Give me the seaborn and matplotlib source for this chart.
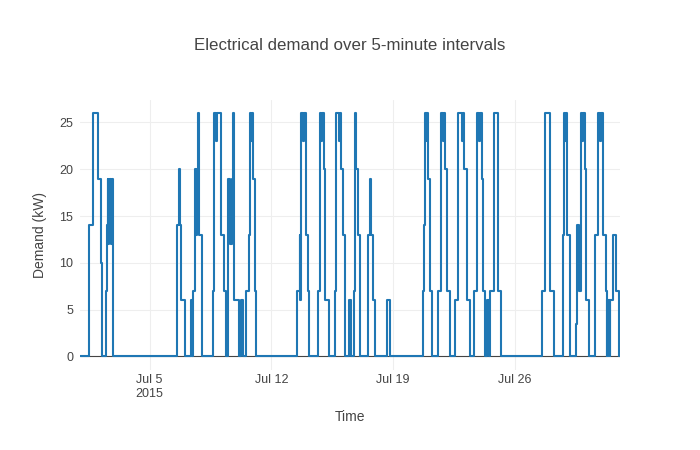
import matplotlib
matplotlib.use("Agg")
import matplotlib.pyplot as plt
import numpy as np
import pandas as pd
import seaborn as sns

# change points of the demand series: hours after 2015-07-01 00:00, and the level held from there
hours = [
    0, 12.6, 17.7, 18.6, 25.3, 29.4, 30.8, 36.0, 37.0, 38.0, 38.8, 39.8, 40.7, 41.6, 42.5, 43.5, 44.9,
    133.5, 136.4, 138.2, 139.2, 145.1, 152.7, 154.4, 156.2, 158.5, 160.3, 161.7, 163.1, 164.1, 168.9,
    183.4, 185.5, 188.2, 189.6, 194.0, 199.0, 201.1, 204.7, 207.6, 209.6, 211.0, 213.1, 219.3, 222.5,
    224.8, 229.6, 233.8, 234.9, 236.3, 237.2, 238.6, 241.0, 242.4,
    299.8, 303.3, 304.2, 305.3, 307.7, 309.7, 312.1, 314.3, 315.7,
    328.0, 330.9, 333.2, 334.6, 336.7, 338.5, 343.0, 351.4, 353.7, 356.7, 358.1, 360.6, 362.9, 365.0,
    365.7, 371.2, 373.5, 377.7, 379.1, 381.3, 383.6, 386.0, 397.4, 400.6, 402.0, 404.3, 406.7, 424.1, 427.4,
    473.1, 474.5, 475.4, 478.2, 479.3, 480.7, 483.0, 485.8, 494.4, 498.0, 500.3, 502.0, 504.0, 506.9,
    510.0, 516.9, 522.0, 526.5, 527.9, 529.3, 533.9, 538.3, 543.8, 547.3, 550.7, 552.1, 554.2, 555.5,
    558.6, 561.8, 563.8, 565.5, 571.0, 576.9, 580.7,
    637.0, 642.3, 648.1, 649.2, 653.6, 666.0, 667.4, 669.5, 670.6, 671.5, 672.6, 675.7, 684.7, 686.0,
    688.1, 690.6, 692.9, 694.3, 696.7, 697.8, 702.3, 710.2, 714.8, 717.8, 719.2, 721.9, 725.1, 726.8,
    727.5, 728.3, 729.1, 730.9, 731.6, 735.7, 738.9, 743.8, 745.1,
]
demand_kw = [
    0, 14, 20, 26, 19, 10, 0, 7, 14, 19, 12, 19, 14, 19, 12, 19, 0,
    14, 20, 14, 6, 0, 6, 0, 7, 20, 13, 20, 26, 13, 0,
    7, 26, 23, 26, 13, 7, 0, 19, 12, 19, 26, 6, 0, 6,
    0, 7, 13, 26, 23, 26, 19, 7, 0,
    7, 13, 6, 26, 23, 26, 13, 7, 0,
    7, 26, 23, 26, 20, 6, 0, 7, 26, 23, 26, 20, 13, 6,
    0, 6, 0, 7, 26, 20, 13, 0, 13, 19, 13, 6, 0, 6, 0,
    7, 14, 26, 23, 26, 19, 7, 0, 7, 26, 23, 26, 20, 7,
    0, 6, 26, 23, 26, 20, 6, 0, 7, 26, 23, 26, 19, 7,
    0, 6, 0, 7, 26, 7, 0,
    7, 26, 20, 7, 0, 13, 26, 23, 26, 20, 13, 0, 3.5, 14,
    7, 26, 23, 26, 20, 6, 0, 13, 26, 23, 26, 13, 7, 0,
    6, 0, 6, 0, 6, 13, 7, 0, 0,
]

start = pd.Timestamp("2015-07-01 00:00")
tick_dates = ["2015-07-05", "2015-07-12", "2015-07-19", "2015-07-26"]
tick_labels = ["Jul 5\n2015", "Jul 12", "Jul 19", "Jul 26"]
y_ticks = [0, 5, 10, 15, 20, 25]

df = pd.DataFrame({
    "Time": start + pd.to_timedelta(hours, unit="h"),
    "Demand (kW)": demand_kw,
})

sns.set_style("white")
plt.rcParams["font.family"] = ["Liberation Sans", "DejaVu Sans"]
text_color = "#444444"

fig = plt.figure(figsize=(7, 4.5), dpi=100)
ax = fig.add_axes([80 / 700, 80 / 450, 540 / 700, 270 / 450])

sns.lineplot(data=df, x="Time", y="Demand (kW)", ax=ax, color="#1f77b4",
             linewidth=1.5, drawstyle="steps-post", estimator=None, sort=False)

ax.set_xlim(df["Time"].iloc[0], df["Time"].iloc[-1])
ax.set_ylim(-1.45, 27.4)
ax.set_xticks(pd.to_datetime(tick_dates))
ax.set_xticklabels(tick_labels, linespacing=1.25)
ax.set_yticks(y_ticks)

ax.grid(True, color="#eeeeee", linewidth=0.8)
ax.set_axisbelow(True)
ax.axhline(0, color=text_color, linewidth=0.8, zorder=1)
for side in ax.spines.values():
    side.set_visible(False)
ax.tick_params(axis="both", length=0, labelsize=9, colors=text_color)
ax.tick_params(axis="x", pad=3)
ax.tick_params(axis="y", pad=5)

ax.set_xlabel("Time", fontsize=10, color=text_color, labelpad=7)
ax.set_ylabel("Demand (kW)", fontsize=10, color=text_color, labelpad=9)
fig.text(0.5, 1 - 45 / 450, "Electrical demand over 5-minute intervals",
         ha="center", va="center", fontsize=12.2, color=text_color)

fig.savefig("out.png", dpi=100)
